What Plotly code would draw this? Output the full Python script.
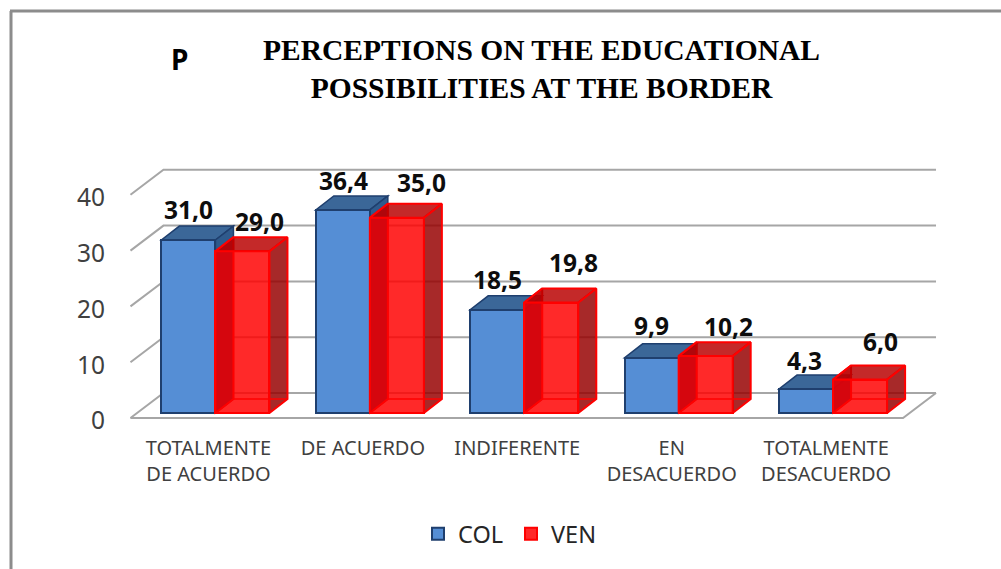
"""3D-look clustered columns: perceptions on educational possibilities at the border."""

import plotly.graph_objects as go

CATEGORIES = ["TOTALMENTE<br>DE ACUERDO", "DE ACUERDO", "INDIFERENTE", "EN<br>DESACUERDO", "TOTALMENTE<br>DESACUERDO"]
COL = [31.0, 36.4, 18.5, 9.9, 4.3]
VEN = [29.0, 35.0, 19.8, 10.2, 6.0]
Y_TICKS = [0, 10, 20, 30, 40]

# hand-placed data labels in the original (px, from the bar's top centre)
COL_LABEL_SHIFT = [(0, 31), (1, 29), (0, 30), (0, 32), (-2, 29)]
VEN_LABEL_SHIFT = [(17, 30), (25, 35), (22, 40), (23, 30), (20, 38)]

W, H = 1001, 569
LEFT, RIGHT, TOP, BOTTOM = 112, 945, 160, 425
BAR_W = 0.35
DEPTH_X, DEPTH_Y = 0.1165, 2.5  # bar depth, axis units
FRONT_Y, BACK_Y = -0.9, 3.58  # floor front / back edge, axis units
WALL_X = 0.2136  # floor depth, axis units
X_RANGE = [-0.6699, 4.7249]
Y_RANGE = [-2.15, 45.34]
FLOOR_X0, FLOOR_X1 = -0.5502, 4.4531
TICK_LABEL_DROP = 0.5  # value labels sit a bit under the wall lines
CATEGORY_LABEL_SHIFT = -0.045

BLUE, BLUE_EDGE, BLUE_TOP, BLUE_SIDE = "#558ed5", "#1f3f6e", "#3b6798", "#2f5a8c"
RED_FRONT, RED_LINE = "rgba(255,0,0,0.84)", "#ff0000"
RED_SIDE, RED_TOP, RED_INNER = "rgba(150,0,0,0.84)", "rgba(185,0,0,0.84)", "rgba(205,0,10,0.55)"
GRID = "#a6a6a6"
TEXT = "#404040"


def open_path(pts):
    return "M" + "L".join(f"{x},{y}" for x, y in pts)


def px_x(px):
    return (px - LEFT) / (RIGHT - LEFT)


def px_y(py):
    return (BOTTOM - py) / (BOTTOM - TOP)


shapes = []
# walls and floor
for v in Y_TICKS:
    pts = [(FLOOR_X0, v + FRONT_Y), (FLOOR_X0 + WALL_X, v + BACK_Y), (FLOOR_X1 + WALL_X, v + BACK_Y)]
    shapes.append(dict(type="path", path=open_path(pts), xref="x", yref="y",
                       line=dict(color=GRID, width=2), layer="below"))
floor = [(FLOOR_X0, FRONT_Y), (FLOOR_X1, FRONT_Y), (FLOOR_X1 + WALL_X, BACK_Y)]
shapes.append(dict(type="path", path=open_path(floor), xref="x", yref="y",
                   line=dict(color=GRID, width=2), layer="below"))

# blue top and side go under the red bars
for i, v in enumerate(COL):
    x0, x1 = i - BAR_W, i
    top = [(x0, v), (x1, v), (x1 + DEPTH_X, v + DEPTH_Y), (x0 + DEPTH_X, v + DEPTH_Y)]
    side = [(x1, 0), (x1 + DEPTH_X, DEPTH_Y), (x1 + DEPTH_X, v + DEPTH_Y), (x1, v)]
    for face, col in ((top, BLUE_TOP), (side, BLUE_SIDE)):
        shapes.append(dict(type="path", path=open_path(face) + "Z", xref="x", yref="y", fillcolor=col,
                           line=dict(color=BLUE_EDGE, width=1.5), layer="below"))

# picture frame
shapes.append(dict(type="line", xref="paper", yref="paper", x0=px_x(11), x1=px_x(11), y0=px_y(11), y1=px_y(569),
                   line=dict(color="#8c8c8c", width=3)))
shapes.append(dict(type="line", xref="paper", yref="paper", x0=px_x(10), x1=px_x(1001), y0=px_y(11), y1=px_y(11),
                   line=dict(color="#8c8c8c", width=3)))

fig = go.Figure()
fig.add_trace(go.Bar(name="COL", x=[i - BAR_W / 2 for i in range(len(COL))], y=COL, width=BAR_W,
                     marker=dict(color=BLUE, line=dict(color=BLUE_EDGE, width=2))))
fig.add_trace(go.Bar(name="VEN", x=[i + BAR_W / 2 for i in range(len(VEN))], y=VEN, width=BAR_W,
                     marker=dict(color=RED_FRONT, line=dict(color=RED_LINE, width=2))))

# red faces sit on top: the bar is see-through in the original
for i, v in enumerate(VEN):
    x0, x1 = i, i + BAR_W
    faces = [
        ([(x0, 0), (x0 + DEPTH_X, DEPTH_Y), (x0 + DEPTH_X, v + DEPTH_Y), (x0, v)], RED_INNER),
        ([(x1, 0), (x1 + DEPTH_X, DEPTH_Y), (x1 + DEPTH_X, v + DEPTH_Y), (x1, v)], RED_SIDE),
        ([(x0, v), (x1, v), (x1 + DEPTH_X, v + DEPTH_Y), (x0 + DEPTH_X, v + DEPTH_Y)], RED_TOP),
    ]
    for pts, col in faces:
        pts = pts + pts[:1]
        fig.add_trace(go.Scatter(x=[p[0] for p in pts], y=[p[1] for p in pts], mode="lines", fill="toself",
                                 fillcolor=col, line=dict(color=RED_LINE, width=2), showlegend=False,
                                 hoverinfo="skip"))
    # back edge of the floor, seen through the bar
    fig.add_trace(go.Scatter(x=[x0 + DEPTH_X, x1 + DEPTH_X], y=[DEPTH_Y, DEPTH_Y], mode="lines",
                             line=dict(color=RED_LINE, width=1.5), showlegend=False, hoverinfo="skip"))

annotations = []
for values, shifts, centre in ((COL, COL_LABEL_SHIFT, -BAR_W / 2), (VEN, VEN_LABEL_SHIFT, BAR_W / 2)):
    for i, (v, (sx, sy)) in enumerate(zip(values, shifts)):
        annotations.append(dict(x=i + centre, y=v, xref="x", yref="y", xshift=sx, yshift=sy, showarrow=False,
                                text=f"{v:.1f}".replace(".", ","),
                                font=dict(family="Noto Sans", size=24.5, color="#0d0d0d", weight="bold")))

annotations.append(dict(xref="paper", yref="paper", x=px_x(541), y=px_y(69), xanchor="center", yanchor="middle",
                        showarrow=False, align="center",
                        text="<b>PERCEPTIONS ON THE EDUCATIONAL<br>POSSIBILITIES AT THE BORDER</b>",
                        font=dict(family="Liberation Serif", size=29.5, color="#000000")))
annotations.append(dict(xref="paper", yref="paper", x=px_x(179), y=px_y(59), xanchor="center", yanchor="middle",
                        showarrow=False, text="<b>P</b>", font=dict(family="Noto Sans", size=28, color="#000000")))

fig.update_layout(
    width=W, height=H,
    margin=dict(l=LEFT, r=W - RIGHT, t=TOP, b=H - BOTTOM, pad=0),
    paper_bgcolor="white", plot_bgcolor="white",
    barmode="overlay", bargap=0,
    showlegend=True,
    legend=dict(orientation="h", x=px_x(511), y=px_y(534), xanchor="center", yanchor="middle", entrywidth=48,
                font=dict(family="Noto Sans", size=23.5, color="#262626"), bgcolor="rgba(0,0,0,0)"),
    shapes=shapes, annotations=annotations,
    xaxis=dict(range=X_RANGE, tickmode="array", ticktext=CATEGORIES,
               tickvals=[i + CATEGORY_LABEL_SHIFT for i in range(len(CATEGORIES))],
               showgrid=False, zeroline=False, showline=False, ticks="", ticklabelstandoff=9,
               tickfont=dict(family="Noto Sans", size=20, color=TEXT)),
    yaxis=dict(range=Y_RANGE, tickmode="array", tickvals=[v + FRONT_Y - TICK_LABEL_DROP for v in Y_TICKS],
               ticktext=[str(v) for v in Y_TICKS],
               showgrid=False, zeroline=False, showline=False, ticks="", ticklabelstandoff=6,
               tickfont=dict(family="Noto Sans", size=24.5, color=TEXT)),
)

fig.write_html("out.html", config=dict(displayModeBar=False),
               post_script="document.body.style.margin='0';document.documentElement.style.overflow='hidden';")
